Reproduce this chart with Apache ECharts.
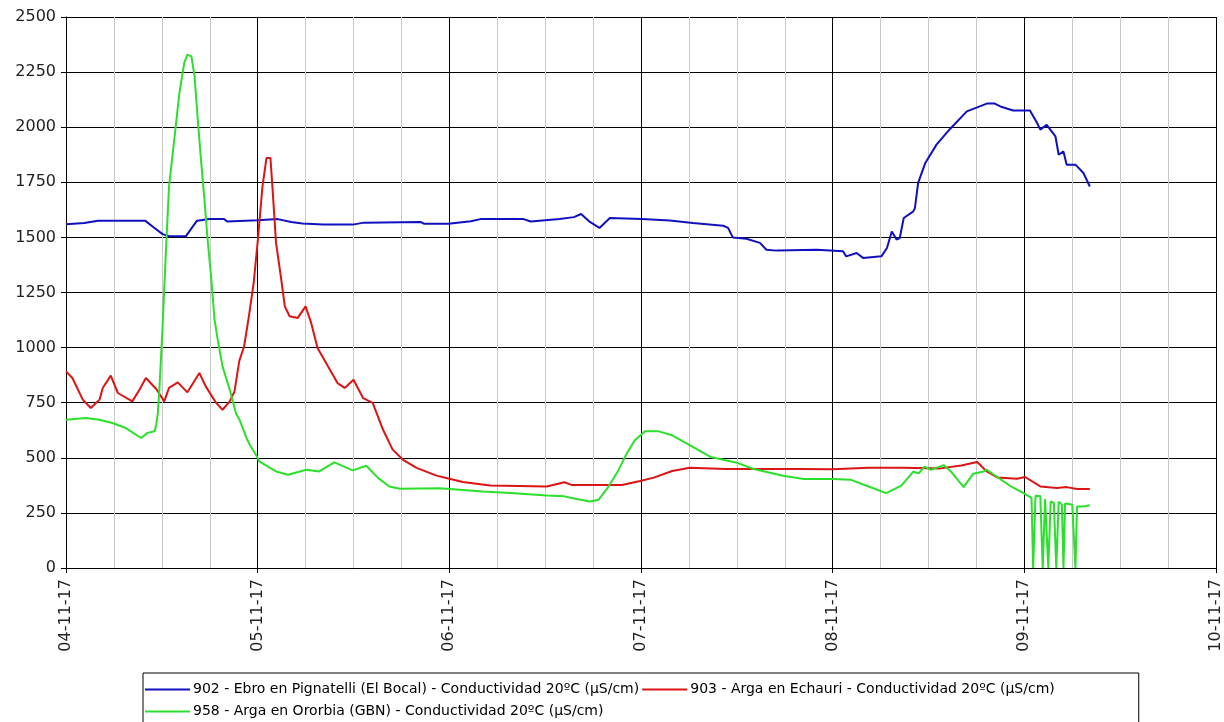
<!DOCTYPE html>
<html>
<head>
<meta charset="utf-8">
<script src="https://cdn.jsdelivr.net/npm/echarts@6/dist/echarts.min.js"></script>
<style>
html,body{margin:0;padding:0;background:#fff;}
#chart{width:1224px;height:722px;}
</style>
</head>
<body>
<div id="chart"></div>
<script>
// Hours since 04-11-17 00:00
const xTickLabels = ['04-11-17','05-11-17','06-11-17','07-11-17','08-11-17','09-11-17','10-11-17'];
const seriesNames = [
  '902 - Ebro en Pignatelli (El Bocal) - Conductividad 20ºC (µS/cm)',
  '903 - Arga en Echauri - Conductividad 20ºC (µS/cm)',
  '958 - Arga en Ororbia (GBN) - Conductividad 20ºC (µS/cm)'
];

const blueT = [0,2.3,4.0,9.9,11.0,12.1,12.9,15.0,16.4,18.0,19.8,20.2,24.0,26.5,28.2,29.6,32.2,35.9,37.3,44.4,44.8,47.9,50.7,51.9,57.3,58.2,61.8,63.6,64.5,65.6,66.8,68.1,72.1,75.6,78.5,82.3,82.9,83.5,85.2,86.9,87.7,89.0,94.0,97.3,97.7,99.0,99.8,102.1,102.8,103.4,104.0,104.4,104.9,106.1,106.3,106.7,107.6,109.0,110.7,112.8,115.3,116.3,117.0,118.6,120.7,121.6,122.0,122.8,123.9,124.3,124.9,125.3,126.4,127.4,128.2];
const blueV = [1560,1565,1576,1576,1545,1515,1505,1505,1576,1583,1583,1572,1578,1583,1570,1563,1558,1558,1567,1570,1562,1562,1573,1583,1583,1572,1583,1592,1606,1570,1543,1588,1583,1577,1565,1553,1543,1500,1494,1475,1444,1440,1444,1437,1414,1429,1407,1414,1452,1527,1490,1497,1588,1618,1633,1747,1838,1921,1992,2072,2107,2107,2094,2076,2076,2019,1989,2011,1958,1875,1890,1830,1830,1792,1731];

const redT = [0,0.8,2.1,3.1,4.2,4.6,5.6,6.5,8.3,9.2,10.0,11.3,12.3,12.9,14.0,15.2,16.7,17.5,18.8,19.6,20.5,21.1,21.7,22.3,22.9,23.5,24.0,24.6,25.1,25.6,25.9,26.3,26.9,27.4,28.0,29.0,30.0,30.7,31.5,32.8,34.0,34.9,36.0,37.2,38.4,39.7,40.9,42.2,43.9,46.4,48.0,49.7,53.1,60.2,62.4,63.3,69.6,71.9,73.6,75.9,78.1,82.6,87.0,91.5,96.0,100.5,104.9,109.5,112.1,114.1,115.3,116.6,119.1,120.1,122.0,124.1,125.3,126.6,128.2];
const redV = [892,862,764,726,764,817,873,794,756,809,862,812,756,817,842,797,885,824,749,718,756,801,940,1005,1142,1293,1480,1730,1860,1860,1701,1475,1323,1187,1142,1134,1187,1112,998,915,839,817,854,771,749,627,537,491,454,419,405,390,374,370,389,377,377,395,410,440,455,449,449,449,448,455,455,452,465,481,438,411,405,413,370,363,367,358,358];

const greenT = [0,2.5,4.2,5.8,7.5,9.4,10.2,11.1,11.3,11.5,11.7,12.1,12.5,12.9,13.6,14.2,14.8,15.2,15.7,16.1,16.5,16.9,17.3,17.7,18.2,18.6,19.0,19.6,20.5,21.3,21.7,22.6,23.0,24.0,24.2,25.5,26.3,27.8,30.1,31.7,33.6,35.9,37.6,39.1,40.5,41.8,46.8,52.2,55.7,60.2,62.4,63.8,65.6,66.7,67.8,69.2,70.1,71.2,72.5,74.1,75.9,78.1,80.7,83.9,86.1,89.8,92.4,96.0,98.3,100.5,102.7,104.6,106.1,106.8,107.5,108.3,109.9,110.8,112.4,113.6,114.9,115.3,116.6,118.2,119.9,120.9,121.1,121.4,122.0,122.3,122.6,123.0,123.3,123.7,124.0,124.3,124.7,124.9,125.1,126.0,126.4,126.6,127.4,128.2];
const greenV = [673,681,673,658,635,590,613,620,650,703,815,1100,1429,1731,1958,2155,2291,2329,2321,2231,2034,1853,1686,1505,1308,1127,1036,915,809,700,675,590,560,500,484,455,438,423,446,438,479,443,464,408,370,360,362,347,340,329,325,314,302,310,362,445,512,579,620,621,602,557,504,479,449,419,404,404,400,370,340,374,437,430,460,445,467,438,367,428,438,446,413,373,340,318,0,328,327,0,313,0,302,295,0,300,288,0,293,288,0,279,279,285];

const colors = ['#1010c0', '#dd1414', '#2ae02a'];
const pairs = (t, v) => t.map((x, i) => [x, v[i]]);
const FONT = "'DejaVu Sans', Verdana, sans-serif";

const chart = echarts.init(document.getElementById('chart'), null, {renderer: 'canvas'});
chart.setOption({
  animation: false,
  backgroundColor: '#fff',
  grid: {left: 66, right: 8, top: 17, bottom: 154, containLabel: false},
  legend: {
    left: 143, top: 673,
    width: 1000,
    orient: 'horizontal',
    padding: [7, 84, 4, 2],
    itemGap: 3,
    itemWidth: 45,
    itemHeight: 2,
    icon: 'rect',
    borderColor: '#000',
    borderWidth: 1,
    backgroundColor: '#fff',
    textStyle: {
      fontFamily: "'DejaVu Sans', sans-serif",
      fontSize: 14, color: '#000', lineHeight: 19, padding: [0, 0, 0, -2]
    },
    data: seriesNames
  },
  xAxis: {
    type: 'value', min: 0, max: 144, interval: 24,
    axisLine: {show: true, onZero: false, lineStyle: {color: '#000', width: 1}},
    axisTick: {show: true, length: 5, lineStyle: {color: '#000'}},
    axisLabel: {
      rotate: 90, margin: 11, color: '#222', fontFamily: FONT, fontSize: 16,
      formatter: v => xTickLabels[Math.round(v / 24)]
    },
    splitLine: {show: true, lineStyle: {color: '#000', width: 1}},
    minorTick: {show: false, splitNumber: 4},
    minorSplitLine: {show: true, lineStyle: {color: '#c8c8c8', width: 1}}
  },
  yAxis: {
    type: 'value', min: 0, max: 2500, interval: 250,
    axisLine: {show: true, lineStyle: {color: '#000', width: 1}},
    axisTick: {show: true, length: 5, lineStyle: {color: '#000'}},
    axisLabel: {margin: 10, color: '#222', fontFamily: FONT, fontSize: 16, formatter: v => String(v)},
    splitLine: {show: true, lineStyle: {color: '#000', width: 1}}
  },
  series: [
    {name: seriesNames[0], type: 'line', data: pairs(blueT, blueV), color: colors[0], showSymbol: false, symbol: 'none', lineStyle: {width: 2}},
    {name: seriesNames[1], type: 'line', data: pairs(redT, redV), color: colors[1], showSymbol: false, symbol: 'none', lineStyle: {width: 2}},
    {name: seriesNames[2], type: 'line', data: pairs(greenT, greenV), color: colors[2], showSymbol: false, symbol: 'none', lineStyle: {width: 2}}
  ]
});
</script>
</body>
</html>
